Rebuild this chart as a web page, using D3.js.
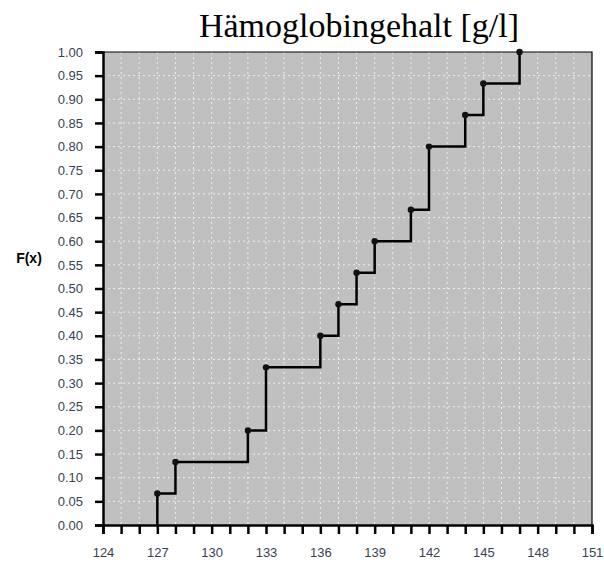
<!DOCTYPE html>
<html>
<head>
<meta charset="utf-8">
<script src="https://cdn.jsdelivr.net/npm/d3@7"></script>
<style>
  body { margin: 0; background: #fff; }
  svg { display: block; }
</style>
</head>
<body>
<div id="chart"></div>
<script>
// measured values (Hämoglobingehalt, n = 15)
var xValues = [127, 128, 132, 133, 136, 137, 138, 139, 141, 142, 144, 145, 147]
var cumFreq = [1/15, 2/15, 3/15, 5/15, 6/15, 7/15, 8/15, 9/15, 10/15, 12/15, 13/15, 14/15, 15/15]
var xTickLabels = [124, 127, 130, 133, 136, 139, 142, 145, 148, 151]
var yTickValues = d3.range(0, 21).map(function (i) { return i * 0.05 })

var W = 604, H = 562
var m = { left: 103, right: 12, top: 52, bottom: 37 }

var svg = d3.select('#chart').append('svg').attr('width', W).attr('height', H)

var x = d3.scaleLinear().domain([124, 151]).range([m.left, W - m.right])
var y = d3.scaleLinear().domain([0, 1]).range([H - m.bottom, m.top])

// plot background
svg.append('rect')
  .attr('x', x(124)).attr('y', y(1))
  .attr('width', x(151) - x(124)).attr('height', y(0) - y(1))
  .attr('fill', '#c0c0c0')

// dotted white grid
var grid = svg.append('g').attr('stroke', '#fff').attr('stroke-width', 1)
  .attr('stroke-dasharray', '2,3').attr('opacity', 0.75)
grid.selectAll('line.v').data(d3.range(125, 151)).enter().append('line')
  .attr('x1', function (d) { return x(d) }).attr('x2', function (d) { return x(d) })
  .attr('y1', y(1)).attr('y2', y(0))
grid.selectAll('line.h').data(yTickValues.slice(1, 20)).enter().append('line')
  .attr('y1', function (d) { return y(d) }).attr('y2', function (d) { return y(d) })
  .attr('x1', x(124)).attr('x2', x(151))

// thin frame top/right
svg.append('path')
  .attr('d', 'M' + x(124) + ',' + y(1) + 'H' + x(151) + 'V' + y(0))
  .attr('fill', 'none').attr('stroke', '#000').attr('stroke-width', 1.2)

// axes
var yAxis = d3.axisLeft(y).tickValues(yTickValues).tickFormat(d3.format('.2f'))
  .tickSize(8).tickPadding(12)
var gy = svg.append('g').attr('transform', 'translate(' + x(124) + ',0)').call(yAxis)

var xAxis = d3.axisBottom(x).tickValues(d3.range(124, 152)).tickSize(9).tickPadding(14)
  .tickFormat(function (d) { return xTickLabels.indexOf(d) >= 0 ? d : '' })
var gx = svg.append('g').attr('transform', 'translate(0,' + y(0) + ')').call(xAxis)

;[gx, gy].forEach(function (g) {
  g.select('.domain').attr('stroke', '#000').attr('stroke-width', 2.5)
  g.selectAll('.tick line').attr('stroke', '#000').attr('stroke-width', 2.5)
  g.selectAll('.tick text').attr('fill', '#3a3f55')
    .style('font-family', 'Liberation Sans, Arial, sans-serif').style('font-size', '13px')
})

// step function
var pts = [[xValues[0], 0]]
xValues.forEach(function (v, i) {
  if (i > 0) pts.push([v, cumFreq[i - 1]])
  pts.push([v, cumFreq[i]])
})
svg.append('path')
  .attr('d', d3.line().x(function (d) { return x(d[0]) }).y(function (d) { return y(d[1]) })(pts))
  .attr('fill', 'none').attr('stroke', '#000').attr('stroke-width', 2.5)

svg.selectAll('circle.pt').data(xValues).enter().append('circle')
  .attr('cx', function (d) { return x(d) })
  .attr('cy', function (d, i) { return y(cumFreq[i]) })
  .attr('r', 3.2).attr('fill', '#111')

// title and axis label
svg.append('text')
  .attr('x', 359).attr('y', 37).attr('text-anchor', 'middle')
  .style('font-family', 'Liberation Serif, Times New Roman, serif').style('font-size', '34px')
  .text('Hämoglobingehalt [g/l]')

svg.append('text')
  .attr('x', 29).attr('y', 263).attr('text-anchor', 'middle')
  .style('font-family', 'Liberation Sans, Arial, sans-serif').style('font-size', '14px')
  .style('font-weight', 'bold')
  .text('F(x)')
</script>
</body>
</html>
